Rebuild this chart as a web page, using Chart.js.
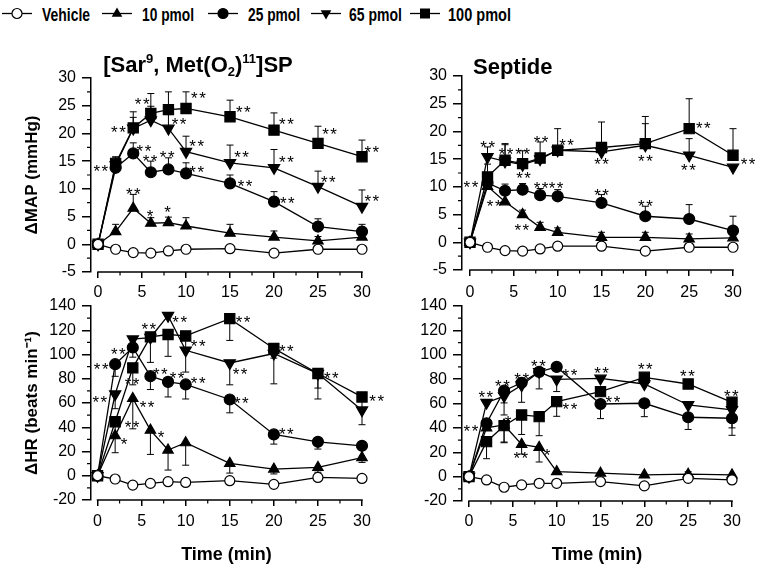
<!DOCTYPE html>
<html><head><meta charset="utf-8">
<script src="https://cdn.jsdelivr.net/npm/chart.js@4/dist/chart.umd.min.js"></script>
<style>
html,body{margin:0;padding:0;background:#fff;}
#wrap{position:relative;width:761px;height:571px;overflow:hidden;background:#fff;}
canvas{position:absolute;}
#legend{position:absolute;left:0;top:0;}
</style></head><body>
<div id="wrap">
<svg id="legend" width="761" height="32" xmlns="http://www.w3.org/2000/svg"></svg>
<canvas id="c1"></canvas><canvas id="c2"></canvas><canvas id="c3"></canvas><canvas id="c4"></canvas>
</div>
<script>
// ---------- data ----------
const times = [0, 2, 4, 6, 8, 10, 15, 20, 25, 30];
const seriesNames = ['Vehicle', '10 pmol', '25 pmol', '65 pmol', '100 pmol'];
const xTicks = [0, 5, 10, 15, 20, 25, 30];
const mapTicks = [-5, 0, 5, 10, 15, 20, 25, 30];
const hrTicks = [-20, 0, 20, 40, 60, 80, 100, 120, 140];

// ΔMAP, [Sar9, Met(O2)11]SP
const mapSarVehicle = [0, -0.9, -1.5, -1.6, -1.2, -0.9, -0.8, -1.6, -0.9, -0.9];
const mapSar10  = [0, 2.3, 6.5, 3.8, 3.9, 3.3, 2.0, 1.3, 0.6, 1.3];
const mapSar25  = [0, 13.8, 16.4, 13.0, 13.5, 12.8, 11.0, 7.7, 3.2, 2.3];
const mapSar65  = [0, 14.3, 20.9, 22.4, 20.9, 16.7, 14.7, 13.8, 10.4, 6.8];
const mapSar100 = [0, 14.6, 21.0, 23.6, 24.3, 24.5, 23.0, 20.6, 18.2, 15.8];
const mapSarErr10  = [null, 1.3, 2.5, 1.0, 1.0, 1.5, 1.6, 1.1, 0.8, 0.8];
const mapSarErr25  = [null, 1.2, 1.9, 2.0, 2.1, 1.9, 1.5, 1.8, 1.4, 1.3];
const mapSarErr65  = [null, 1.5, 2.0, 2.5, 2.5, 2.8, 3.2, 3.3, 2.8, 3.0];
const mapSarErr100 = [null, 1.0, 2.9, 3.6, 3.2, 3.0, 3.0, 3.1, 3.1, 3.0];
const mapSarStars = [[0.4,13.9,'**'],[2.4,20.9,'**'],[4.1,9.8,'**'],[5.1,26.0,'**'],[5.3,17.6,'**'],[6.0,15.8,'**'],[7.95,16.4,'**'],[9.3,22.4,'**'],[11.5,27.2,'**'],[11.3,18.5,'**'],[11.3,13.8,'**'],[16.6,24.5,'**'],[16.4,16.5,'**'],[16.8,11.3,'**'],[21.5,22.4,'**'],[21.5,15.5,'**'],[21.6,8.1,'**'],[26.4,20.6,'**'],[26.25,12.0,'**'],[6.0,5.9,'*'],[8.0,6.5,'*'],[31.2,17.4,'**'],[31.2,8.5,'**']];

// ΔMAP, Septide
const mapSepVehicle = [0, -0.9, -1.5, -1.6, -1.2, -0.7, -0.7, -1.6, -0.9, -0.9];
const mapSep10  = [0, 10.1, 7.3, 5.0, 2.7, 1.8, 0.9, 0.9, 0.6, 0.8];
const mapSep25  = [0, 10.7, 9.3, 9.5, 8.5, 8.3, 7.1, 4.7, 4.2, 2.1];
const mapSep65  = [0, 15.4, 14.6, 14.0, 15.0, 16.6, 16.3, 17.5, 15.7, 13.5];
const mapSep100 = [0, 11.8, 14.8, 14.2, 15.2, 16.6, 17.1, 17.8, 20.5, 15.7];
const mapSepErr10  = [null, null, null, 0.8, 0.9, 0.8, 0.9, 0.9, 0.9, 0.5];
const mapSepErr25  = [null, null, 1.2, 1.1, 1.2, 1.2, 1.5, 1.8, 2.6, 2.6];
const mapSepErr65  = [null, 1.8, 3.0, null, null, null, null, 3.9, 3.0, null];
const mapSepErr100 = [null, 2.3, 3.0, 2.3, 2.9, 3.9, 4.6, 4.9, 5.4, 4.8];
const mapSepStars = [[0.2,10.7,'**'],[2.1,17.9,'**'],[2.85,7.3,'**'],[4.2,16.7,'**'],[6.1,16.7,'**'],[6.2,12.3,'**'],[6.0,2.9,'**'],[8.2,18.8,'**'],[11.1,18.2,'**'],[8.2,10.5,'**'],[9.9,10.5,'**'],[15.1,14.9,'**'],[15.1,9.3,'**'],[20.1,15.3,'**'],[20.1,7.3,'**'],[25.0,13.8,'**'],[26.7,21.4,'**'],[31.8,14.9,'**']];

// ΔHR, [Sar9, Met(O2)11]SP
const hrSarVehicle = [0, -2.7, -7.7, -6.3, -4.9, -5.5, -4.1, -7.1, -1.4, -2.2];
const hrSar10  = [0, 33, 63.7, 37.6, 21.2, 27.2, 10.2, 5.5, 6.9, 15];
const hrSar25  = [0, 92, 105.8, 82.1, 77.4, 75.3, 62.9, 34.1, 28, 24.7];
const hrSar65  = [0, 67.3, 112.6, 114, 132, 103.5, 93, 100.8, 84.3, 54.1];
const hrSar100 = [0, 44.5, 89, 114.5, 116.5, 115.3, 129.6, 105, 84.3, 65];
const hrSarErr10  = [null, -14, -25, -20, -16.5, -18.5, -8, -4, -4, -4];
const hrSarErr25  = [null, -10, -8, -11, -12.4, -12, -11, -8, -6, -3];
const hrSarErr65  = [null, -12, -10, null, null, -18, -18, -25, -21, -12];
const hrSarErr100 = [null, -12, -14, -21, -18, -12, -18, -8, -12, -10];
const hrSarStars = [[0.5,91.2,'**'],[0.35,63.8,'**'],[3.1,29.4,'*'],[2.45,104,'**'],[4.0,78.8,'**'],[4.0,43.2,'**'],[5.7,59.6,'**'],[5.9,124.1,'**'],[7.2,87.6,'**'],[9.1,84.3,'**'],[7.3,34.9,'*'],[9.4,130.5,'**'],[11.5,110.4,'**'],[11.5,80.2,'**'],[16.6,130.5,'**'],[16.25,87.1,'**'],[16.4,62.9,'**'],[21.5,106.3,'**'],[21.5,37.6,'**'],[26.6,84.3,'**'],[31.75,64.6,'**']];

// ΔHR, Septide
const hrSepVehicle = [0, -2.7, -8.7, -6.8, -5.5, -5.5, -4.1, -7.6, -1.4, -2.7];
const hrSep10  = [0, 40, 42.4, 26.5, 24, 4.1, 2.8, 1.4, 2, 1.4];
const hrSep25  = [0, 43.8, 70.5, 77, 86, 90, 59.6, 60.2, 48.7, 47.9];
const hrSep65  = [0, 60.7, 66.1, 75, 86, 79.8, 80.6, 76, 58.8, 54.7];
const hrSep100 = [0, 28.7, 41.8, 50.6, 49.2, 61.5, 69.7, 81.5, 76, 61];
const hrSepErr10  = [null, null, -14, -8, -12, null, null, null, 2, null];
const hrSepErr25  = [null, null, -10, -16, -14, null, -12, -11, -10, -14];
const hrSepErr65  = [null, null, -15.5, null, null, -10, null, null, -8, null];
const hrSepErr100 = [null, -14, -14, -16, -15.6, -12, null, null, null, -21];
const hrSepStars = [[0.3,41,'**'],[2.0,68.4,'**'],[3.9,77.9,'**'],[6.1,83.4,'**'],[4.55,47.9,'*'],[8.0,94.3,'**'],[6.0,18.6,'**'],[9.0,21.3,'*'],[11.6,86.6,'**'],[11.6,58.8,'**'],[15.2,88.3,'**'],[16.5,64.8,'**'],[20.2,91.6,'**'],[25.0,86.1,'**'],[30.0,69.7,'**']];

const sarTitle = [['[Sar',''],['9','sup'],[', Met(O',''],['2','sub'],[')',''],['11','sup'],[']SP','']];
const sepTitle = [['Septide','']];
const mapAxisTitle = 'ΔMAP (mmHg)';
const hrAxisTitle = 'ΔHR (beats min⁻¹)';
const timeTitle = 'Time (min)';

// ---------- styles ----------
const FONT = "'Liberation Sans', Arial, Helvetica, sans-serif";
Chart.defaults.font.family = FONT;
Chart.defaults.color = '#000';
const seriesStyle = [
  {pointStyle:'circle', radius:5, bg:'#fff', rot:0},
  {pointStyle:'triangle', radius:6, bg:'#000', rot:0},
  {pointStyle:'circle', radius:5.5, bg:'#000', rot:0},
  {pointStyle:'triangle', radius:6.5, bg:'#000', rot:180},
  {pointStyle:'rect', radius:7.2, bg:'#000', rot:0}
];

const panels = [
  {id:'c1', left:0, top:40, width:400, height:260, padTop:38, padRight:38, yWidth:91, xHeight:28, xMin:-0.8, xPad:6,
   yMin:-5, yMax:30, yTicks:mapTicks, yTitle:mapAxisTitle, xTitle:null,
   series:[mapSarVehicle,mapSar10,mapSar25,mapSar65,mapSar100],
   errors:[null,mapSarErr10,mapSarErr25,mapSarErr65,mapSarErr100],
   stars:mapSarStars, title:sarTitle, titleX:198, titleY:72, titleAlign:'center'},
  {id:'c2', left:380, top:40, width:381, height:260, padTop:36, padRight:28, yWidth:82, xHeight:30, xMin:-0.91, xPad:8,
   yMin:-5, yMax:30, yTicks:mapTicks, yTitle:null, xTitle:null,
   series:[mapSepVehicle,mapSep10,mapSep25,mapSep65,mapSep100],
   errors:[null,mapSepErr10,mapSepErr25,mapSepErr65,mapSepErr100],
   stars:mapSepStars, title:sepTitle, titleX:473, titleY:74, titleAlign:'left'},
  {id:'c3', left:0, top:290, width:400, height:281, padTop:16, padRight:38, yWidth:91, xHeight:71, xMin:-0.74, xPad:7,
   yMin:-20, yMax:140, yTicks:hrTicks, yTitle:hrAxisTitle, xTitle:timeTitle,
   series:[hrSarVehicle,hrSar10,hrSar25,hrSar65,hrSar100],
   errors:[null,hrSarErr10,hrSarErr25,hrSarErr65,hrSarErr100],
   stars:hrSarStars, title:null},
  {id:'c4', left:380, top:290, width:381, height:281, padTop:16, padRight:29, yWidth:82, xHeight:70, xMin:-0.8, xPad:6,
   yMin:-20, yMax:140, yTicks:hrTicks, yTitle:null, xTitle:timeTitle,
   series:[hrSepVehicle,hrSep10,hrSep25,hrSep65,hrSep100],
   errors:[null,hrSepErr10,hrSepErr25,hrSepErr65,hrSepErr100],
   stars:hrSepStars, title:null}
];
const panelById = {};
panels.forEach(p => panelById[p.id] = p);

function mids(arr){ const m=[]; for(let i=0;i<arr.length-1;i++) m.push((arr[i]+arr[i+1])/2); return m; }

const decor = {
  id:'decor',
  beforeDatasetsDraw(chart){
    const p = panelById[chart.canvas.id];
    const ctx = chart.ctx, xs = chart.scales.x, ys = chart.scales.y, ca = chart.chartArea;
    ctx.save();
    ctx.strokeStyle = '#000';
    ctx.lineWidth = 1.5;
    ctx.beginPath();
    ctx.moveTo(xs.getPixelForValue(xTicks[0]) - 0.75, ca.bottom);
    ctx.lineTo(xs.getPixelForValue(xTicks[xTicks.length-1]) + 0.75, ca.bottom);
    ctx.stroke();
    ctx.lineWidth = 1.2;
    ctx.beginPath();
    mids(xTicks).forEach(v => { const x = xs.getPixelForValue(v); ctx.moveTo(x, ca.bottom); ctx.lineTo(x, ca.bottom + 3.5); });
    mids(p.yTicks).forEach(v => { const y = ys.getPixelForValue(v); ctx.moveTo(ca.left, y); ctx.lineTo(ca.left - 4, y); });
    ctx.stroke();
    ctx.lineWidth = 1;
    p.errors.forEach((errs, si) => {
      if (!errs) return;
      const vals = p.series[si];
      errs.forEach((e, i) => {
        if (e === null) return;
        const x = xs.getPixelForValue(times[i]);
        const y0 = ys.getPixelForValue(vals[i]);
        const y1 = ys.getPixelForValue(vals[i] + e);
        ctx.beginPath();
        ctx.moveTo(x, y0); ctx.lineTo(x, y1);
        ctx.moveTo(x - 3.5, y1); ctx.lineTo(x + 3.5, y1);
        ctx.stroke();
      });
    });
    ctx.restore();
  },
  afterDatasetsDraw(chart){
    const p = panelById[chart.canvas.id];
    const ctx = chart.ctx, xs = chart.scales.x, ys = chart.scales.y;
    ctx.save();
    ctx.fillStyle = '#000';
    ctx.font = '17px ' + FONT;
    ctx.textAlign = 'center';
    ctx.textBaseline = 'alphabetic';
    if ('letterSpacing' in ctx) ctx.letterSpacing = '1.5px';
    p.stars.forEach(([sx, sy, txt]) => {
      ctx.fillText(txt, xs.getPixelForValue(sx), ys.getPixelForValue(sy) + 10);
    });
    ctx.restore();
  },
  afterDraw(chart){
    const p = panelById[chart.canvas.id];
    if (!p.title) return;
    const ctx = chart.ctx;
    ctx.save();
    ctx.fillStyle = '#000';
    ctx.textBaseline = 'alphabetic';
    ctx.textAlign = 'left';
    const big = 'bold 22px ' + FONT, small = 'bold 13px ' + FONT;
    let w = 0;
    p.title.forEach(([t, k]) => { ctx.font = k ? small : big; w += ctx.measureText(t).width; });
    let x = (p.titleAlign === 'center' ? p.titleX - w / 2 : p.titleX) - p.left;
    const base = p.titleY - p.top;
    p.title.forEach(([t, k]) => {
      ctx.font = k ? small : big;
      const dy = k === 'sup' ? -9 : (k === 'sub' ? 4 : 0);
      ctx.fillText(t, x, base + dy);
      x += ctx.measureText(t).width;
    });
    ctx.restore();
  }
};

panels.forEach(p => {
  const cv = document.getElementById(p.id);
  cv.width = p.width; cv.height = p.height;
  cv.style.left = p.left + 'px'; cv.style.top = p.top + 'px';
  cv.style.width = p.width + 'px'; cv.style.height = p.height + 'px';
  const datasets = p.series.map((vals, si) => ({
    label: seriesNames[si],
    data: times.map((t, i) => ({x: t, y: vals[i]})),
    borderColor: '#000', borderWidth: 1.3, tension: 0, fill: false, clip: false,
    pointStyle: seriesStyle[si].pointStyle, pointRadius: seriesStyle[si].radius,
    pointRotation: seriesStyle[si].rot,
    pointBackgroundColor: seriesStyle[si].bg, pointBorderColor: '#000', pointBorderWidth: 1.2,
    pointHoverRadius: seriesStyle[si].radius
  }));
  new Chart(cv, {
    type: 'line',
    data: {datasets},
    plugins: [decor],
    options: {
      responsive: false, animation: false, devicePixelRatio: 1,
      events: [],
      layout: {padding: {top: p.padTop, right: p.padRight, left: 0, bottom: 0}},
      plugins: {legend: {display: false}, tooltip: {enabled: false}, title: {display: false}},
      scales: {
        x: {
          type: 'linear', min: p.xMin, max: xTicks[xTicks.length-1],
          afterBuildTicks: s => { s.ticks = xTicks.map(v => ({value: v})); },
          afterFit: s => { s.height = p.xHeight; },
          ticks: {font: {size: 16}, color: '#000', padding: p.xPad - 1, maxRotation: 0, autoSkip: false},
          grid: {drawOnChartArea: false, drawTicks: true, tickLength: 6, color: '#000', lineWidth: 1.5},
          border: {display: false},
          title: {display: !!p.xTitle, text: p.xTitle || '', color: '#000', font: {size: 18, weight: 'bold'}, padding: {top: 0, bottom: 5}}
        },
        y: {
          type: 'linear', min: p.yMin, max: p.yMax,
          afterBuildTicks: s => { s.ticks = p.yTicks.map(v => ({value: v})); },
          afterFit: s => { s.width = p.yWidth; },
          ticks: {font: {size: 16}, color: '#000', padding: 6, autoSkip: false},
          grid: {drawOnChartArea: false, drawTicks: true, tickLength: 9, color: '#000', lineWidth: 1.5},
          border: {display: true, color: '#000', width: 1.5},
          title: {display: !!p.yTitle, text: p.yTitle || '', color: '#000', font: {size: 17, weight: 'bold'}, padding: {top: 22, bottom: 0}}
        }
      }
    }
  });
});

// ---------- legend ----------
const legendLayout = [{x:2, tx:42, w:48}, {x:102, tx:142, w:52}, {x:208, tx:248, w:52}, {x:311, tx:349, w:53}, {x:410, tx:448, w:63}];
const svg = document.getElementById('legend');
const NS = 'http://www.w3.org/2000/svg';
function el(tag, attrs){ const e = document.createElementNS(NS, tag); for (const k in attrs) e.setAttribute(k, attrs[k]); svg.appendChild(e); return e; }
seriesNames.forEach((name, i) => {
  const L = legendLayout[i], cy = 13.5, cx = L.x + 15;
  el('line', {x1: L.x, y1: cy, x2: L.x + 30, y2: cy, stroke: '#000', 'stroke-width': 1.3});
  const st = seriesStyle[i];
  if (st.pointStyle === 'circle') el('circle', {cx, cy, r: 5, fill: st.bg, stroke: '#000', 'stroke-width': 1.2});
  else if (st.pointStyle === 'rect') el('rect', {x: cx - 5, y: cy - 5, width: 10, height: 10, fill: '#000'});
  else if (st.rot === 0) el('polygon', {points: `${cx},${cy-6} ${cx+5.3},${cy+3.3} ${cx-5.3},${cy+3.3}`, fill: '#000'});
  else el('polygon', {points: `${cx},${cy+6} ${cx+5.3},${cy-3.3} ${cx-5.3},${cy-3.3}`, fill: '#000'});
  const t = el('text', {x: L.tx, y: 20.5, 'font-family': FONT, 'font-weight': 'bold', 'font-size': 18.5, textLength: L.w, lengthAdjust: 'spacingAndGlyphs', fill: '#000'});
  t.textContent = name;
});
</script>
</body></html>
